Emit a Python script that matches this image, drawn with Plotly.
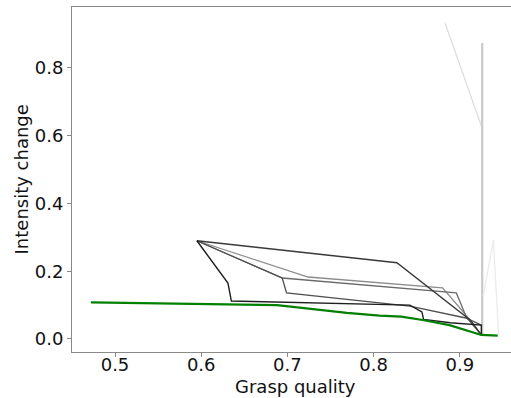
import plotly.graph_objects as go

# ---- data ----
green_x = [0.472, 0.602, 0.688, 0.769, 0.807, 0.832, 0.857, 0.888, 0.925, 0.944]
green_y = [0.108, 0.104, 0.100, 0.077, 0.069, 0.066, 0.056, 0.041, 0.012, 0.010]

pathA_x = [0.595, 0.827, 0.912, 0.925]
pathA_y = [0.290, 0.225, 0.056, 0.012]
pathB_x = [0.595, 0.724, 0.880, 0.912, 0.925]
pathB_y = [0.290, 0.183, 0.151, 0.056, 0.012]
pathC_x = [0.595, 0.694, 0.896, 0.908, 0.925]
pathC_y = [0.290, 0.180, 0.136, 0.062, 0.012]
pathD_x = [0.595, 0.694, 0.699, 0.842, 0.907, 0.925]
pathD_y = [0.290, 0.180, 0.136, 0.097, 0.062, 0.041]
pathE_x = [0.595, 0.631, 0.635, 0.842, 0.856, 0.858, 0.889, 0.925, 0.925]
pathE_y = [0.290, 0.165, 0.112, 0.100, 0.080, 0.058, 0.048, 0.041, 0.012]
diag_x = [0.883, 0.925]
diag_y = [0.932, 0.629]
vert_x = [0.926, 0.926]
vert_y = [0.874, 0.010]
spike_x = [0.927, 0.939, 0.945]
spike_y = [0.125, 0.292, 0.012]

x_ticks = [0.5, 0.6, 0.7, 0.8, 0.9]
y_ticks = [0.0, 0.2, 0.4, 0.6, 0.8]

grey_paths = [
    (diag_x, diag_y, "#dedede", 1.3),
    (vert_x, vert_y, "#c8c8c8", 2.2),
    (spike_x, spike_y, "#ebebeb", 1.3),
    (pathB_x, pathB_y, "#8c8c8c", 1.3),
    (pathC_x, pathC_y, "#6a6a6a", 1.3),
    (pathD_x, pathD_y, "#505050", 1.3),
    (pathA_x, pathA_y, "#3a3a3a", 1.4),
    (pathE_x, pathE_y, "#1e1e1e", 1.4),
]

fig = go.Figure()
for xs, ys, col, w in grey_paths:
    fig.add_trace(go.Scatter(x=xs, y=ys, mode="lines",
                             line=dict(color=col, width=w), showlegend=False))
fig.add_trace(go.Scatter(x=green_x, y=green_y, mode="lines",
                         line=dict(color="#008000", width=2.2), showlegend=False))

font = dict(family="DejaVu Sans", size=18, color="#111111")
fig.update_layout(
    width=511, height=398,
    margin=dict(l=72, r=0, t=7, b=46, autoexpand=False),
    paper_bgcolor="white", plot_bgcolor="white",
    font=font,
    xaxis=dict(range=[0.4501, 0.9594], tickvals=x_ticks,
               ticktext=[f"{v:.1f}" for v in x_ticks],
               showgrid=False, zeroline=False, showline=True, mirror=True,
               linecolor="#8a8a8a", linewidth=1, ticks="outside", ticklen=4,
               tickcolor="#8a8a8a", tickfont=font, automargin=False,
               ticklabelstandoff=-8),
    yaxis=dict(range=[-0.0384, 0.980], tickvals=y_ticks,
               ticktext=[f"{v:.1f}" for v in y_ticks],
               showgrid=False, zeroline=False, showline=True,
               linecolor="#8a8a8a", linewidth=1, ticks="outside", ticklen=4,
               tickcolor="#8a8a8a", tickfont=font, automargin=False),
    annotations=[
        dict(text="Grasp quality", xref="paper", yref="paper",
             x=0.508, y=-0.099, xanchor="center", yanchor="middle",
             showarrow=False, font=font),
        dict(text="Intensity change", xref="paper", yref="paper",
             x=-0.114, y=0.5, xanchor="center", yanchor="middle",
             textangle=-90, showarrow=False, font=font),
    ],
)
fig.write_html("out.html", config={"displayModeBar": False},
               post_script="document.body.style.margin='0px';document.body.style.overflow='hidden';")
